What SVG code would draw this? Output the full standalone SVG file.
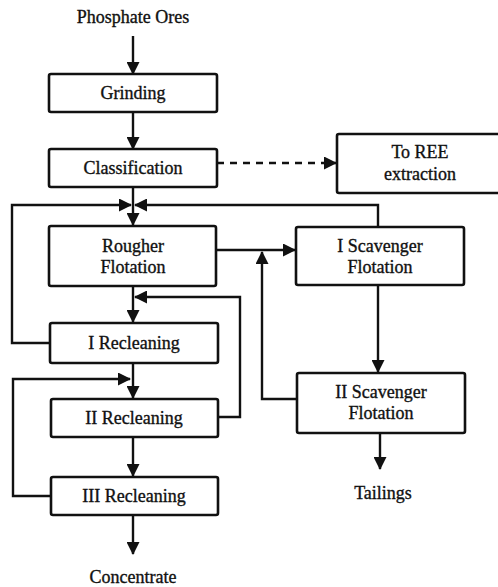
<svg xmlns="http://www.w3.org/2000/svg" width="498" height="587" viewBox="0 0 498 587">
<defs>
<marker id="ah" markerWidth="13" markerHeight="13" refX="12" refY="6.5" orient="auto" markerUnits="userSpaceOnUse">
<path d="M0,0 L13,6.5 L0,13 Z" fill="#111"/>
</marker>
</defs>
<style>
.box{fill:#fff;stroke:#111;stroke-width:2.6}
.ln{fill:none;stroke:#111;stroke-width:2.4}
.t{font-family:"Liberation Serif","Times New Roman","DejaVu Serif",serif;font-size:18px;fill:#111;stroke:#111;stroke-width:0.35;text-anchor:middle}
</style>
<rect width="498" height="587" fill="#fff"/>
<g id="connectors">
<line class="ln" x1="133" y1="36" x2="133" y2="74" marker-end="url(#ah)"/>
<line class="ln" x1="133" y1="112" x2="133" y2="149" marker-end="url(#ah)"/>
<line class="ln" x1="217" y1="163" x2="336" y2="163" stroke-dasharray="7,6" marker-end="url(#ah)"/>
<line class="ln" x1="133" y1="187" x2="133" y2="225" marker-end="url(#ah)"/>
<polyline class="ln" points="49,343 12,343 12,205 131,205" marker-end="url(#ah)"/>
<polyline class="ln" points="378,227 378,205 135,205" marker-end="url(#ah)"/>
<line class="ln" x1="216" y1="250" x2="295" y2="250" marker-end="url(#ah)"/>
<polyline class="ln" points="297,399 262,399 262,252" marker-end="url(#ah)"/>
<line class="ln" x1="378" y1="285" x2="378" y2="372" marker-end="url(#ah)"/>
<line class="ln" x1="380" y1="433" x2="380" y2="469" marker-end="url(#ah)"/>
<line class="ln" x1="133" y1="286" x2="133" y2="322" marker-end="url(#ah)"/>
<polyline class="ln" points="218,417 240,417 240,297 135,297" marker-end="url(#ah)"/>
<line class="ln" x1="133" y1="363" x2="133" y2="398" marker-end="url(#ah)"/>
<polyline class="ln" points="51,496 13,496 13,379 130,379" marker-end="url(#ah)"/>
<line class="ln" x1="133" y1="437" x2="133" y2="476" marker-end="url(#ah)"/>
<line class="ln" x1="133" y1="515" x2="133" y2="554" marker-end="url(#ah)"/>
</g>
<g id="phosphate-ores"><text class="t" x="133" y="23">Phosphate Ores</text></g>
<g id="grinding"><rect class="box" x="49" y="74" width="168" height="38" rx="2"/><text class="t" x="133" y="99">Grinding</text></g>
<g id="classification"><rect class="box" x="49" y="149" width="168" height="38" rx="2"/><text class="t" x="133" y="174">Classification</text></g>
<g id="ree"><rect class="box" x="337" y="134" width="170" height="59" rx="2"/><text class="t" x="420" y="158">To REE</text><text class="t" x="420" y="180">extraction</text></g>
<g id="rougher"><rect class="box" x="49" y="226" width="167" height="60" rx="2"/><text class="t" x="133" y="252">Rougher</text><text class="t" x="133" y="273">Flotation</text></g>
<g id="scav1"><rect class="box" x="296" y="227" width="168" height="58" rx="2"/><text class="t" x="380" y="252">I Scavenger</text><text class="t" x="380" y="273">Flotation</text></g>
<g id="recl1"><rect class="box" x="50" y="323" width="168" height="40" rx="2"/><text class="t" x="134" y="349">I Recleaning</text></g>
<g id="scav2"><rect class="box" x="297" y="373" width="168" height="60" rx="2"/><text class="t" x="381" y="398">II Scavenger</text><text class="t" x="381" y="419">Flotation</text></g>
<g id="tailings"><text class="t" x="383" y="499">Tailings</text></g>
<g id="recl2"><rect class="box" x="51" y="399" width="167" height="38" rx="2"/><text class="t" x="134" y="424">II Recleaning</text></g>
<g id="recl3"><rect class="box" x="51" y="477" width="167" height="38" rx="2"/><text class="t" x="134" y="502">III Recleaning</text></g>
<g id="concentrate"><text class="t" x="133" y="583">Concentrate</text></g>
</svg>
